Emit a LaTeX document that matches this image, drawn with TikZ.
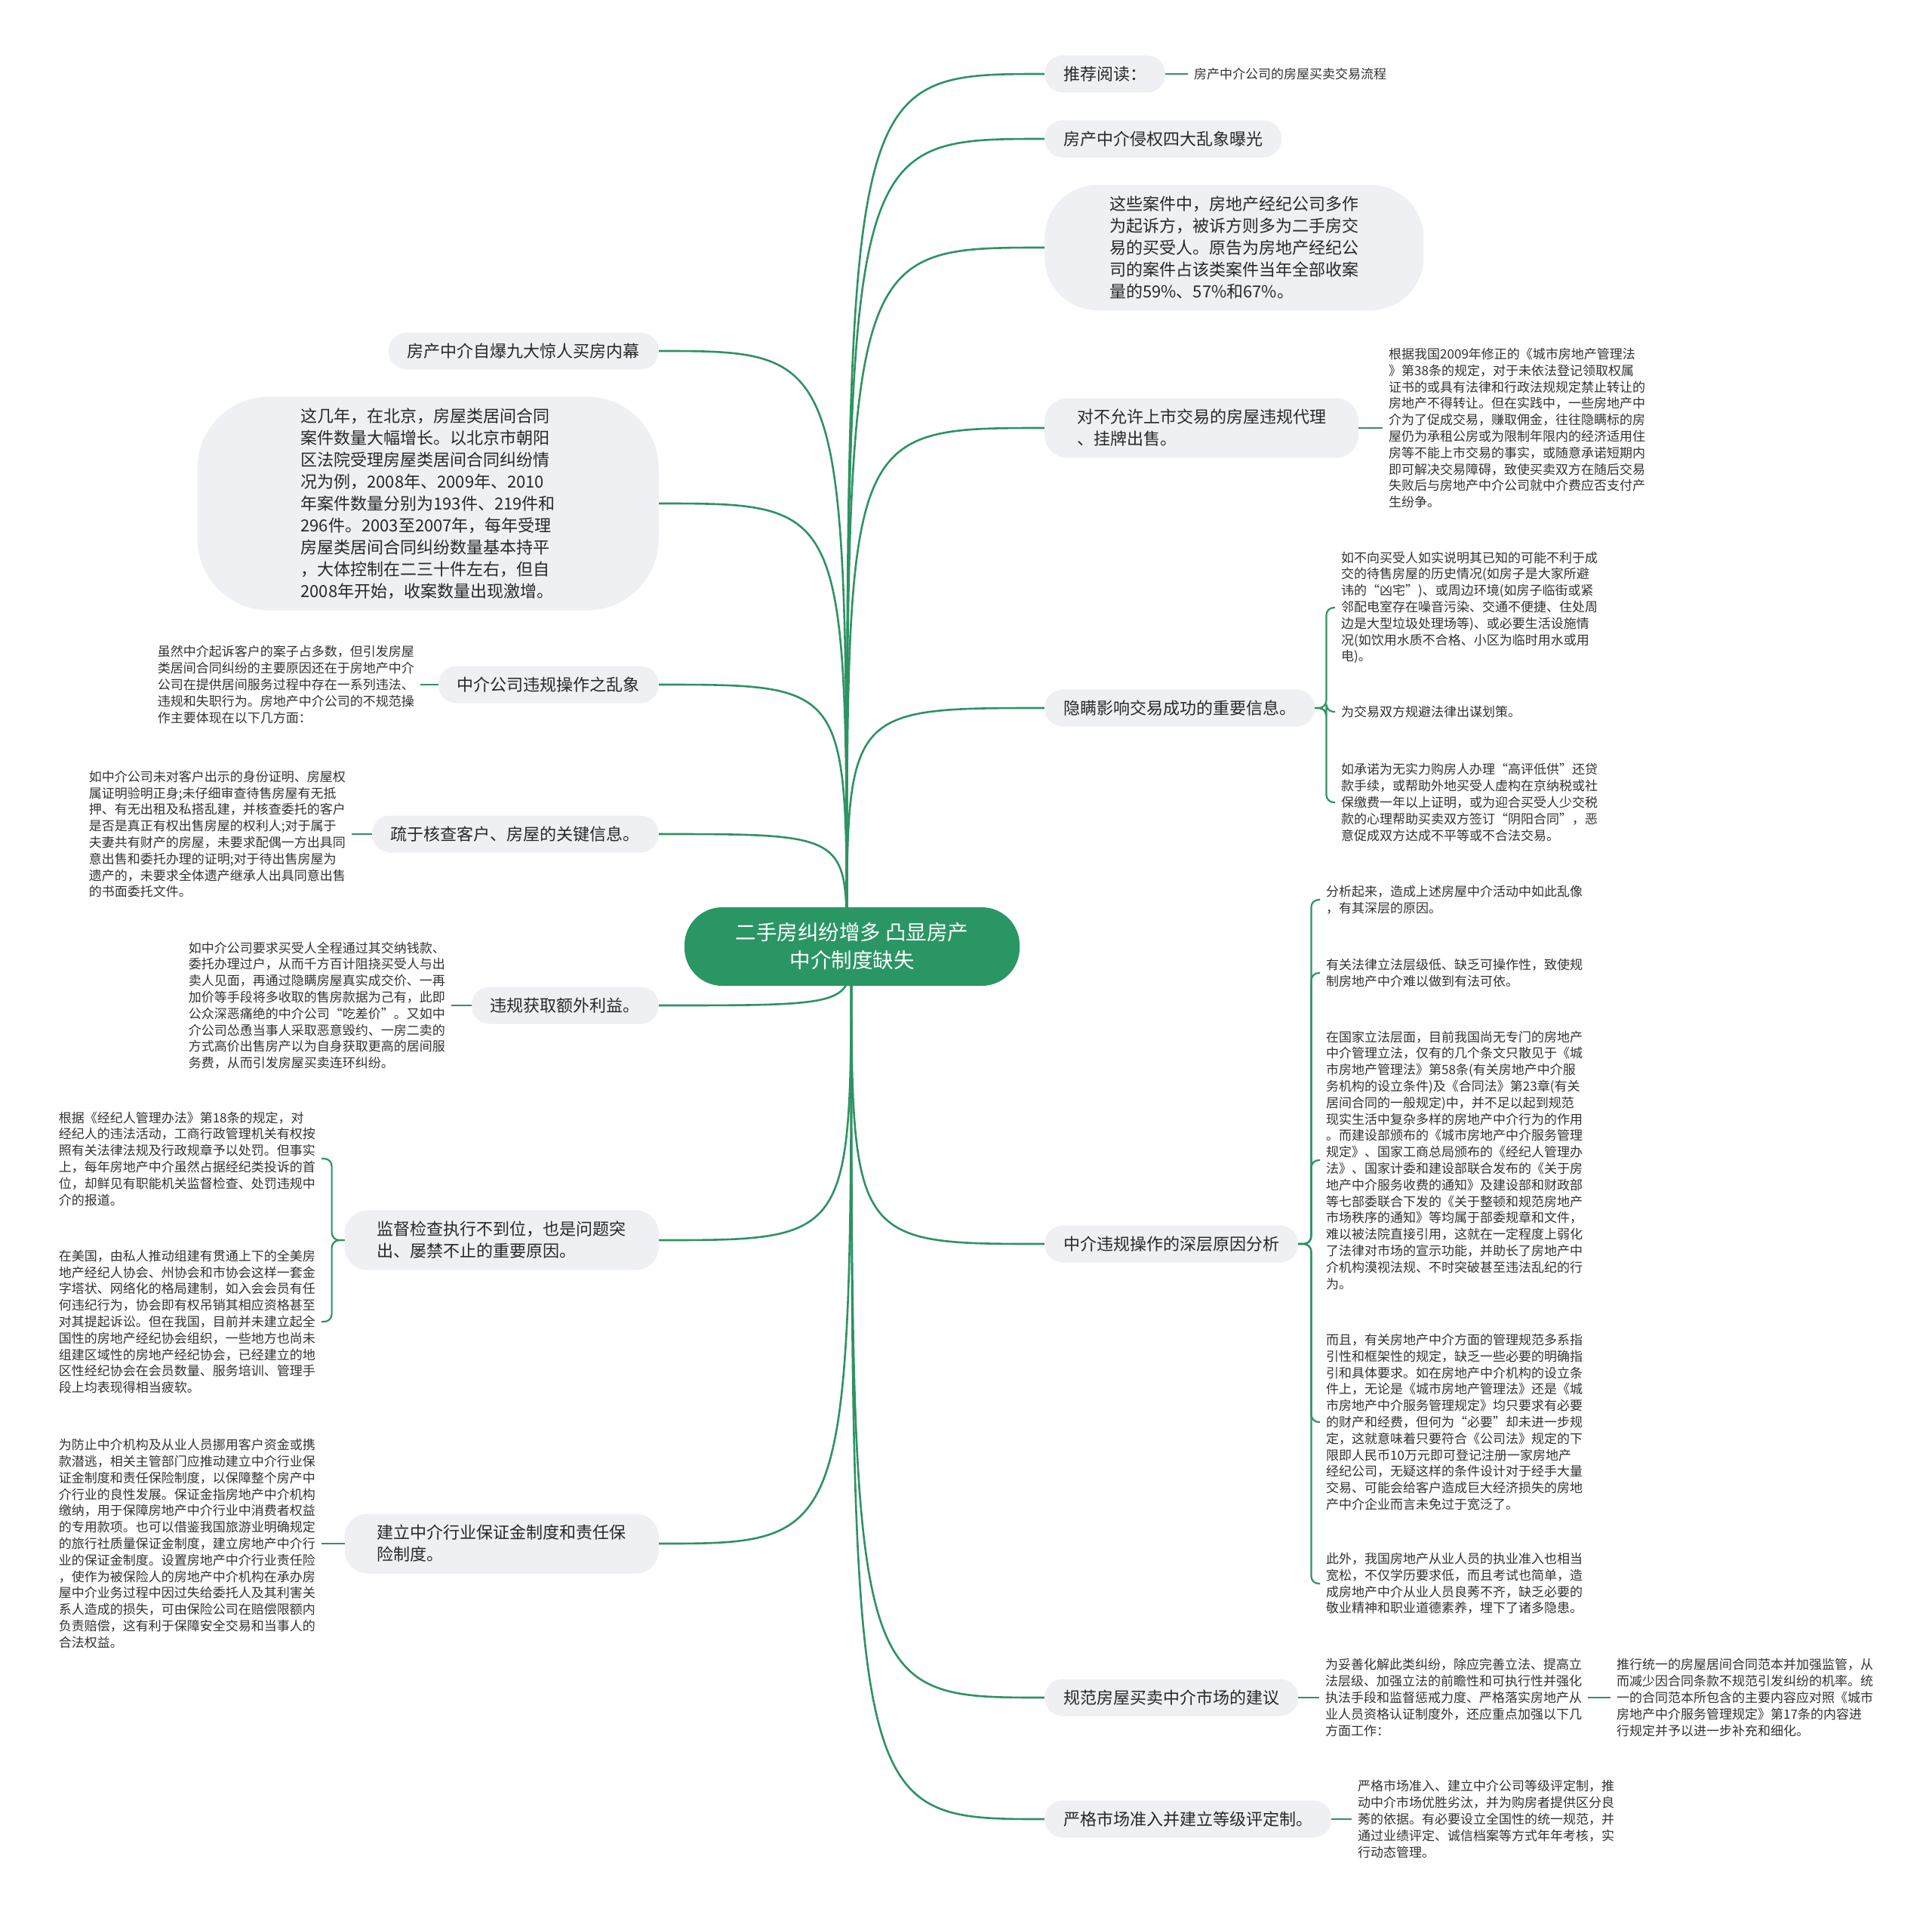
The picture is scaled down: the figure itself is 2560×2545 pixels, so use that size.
\documentclass[tikz,border=0pt]{standalone}
\usepackage{fontspec}
\setmainfont{Noto Sans CJK SC}
\usetikzlibrary{backgrounds}
\definecolor{gline}{RGB}{46,146,98}
\definecolor{groot}{RGB}{42,150,100}
\definecolor{boxfill}{RGB}{238,240,244}
\definecolor{txt}{RGB}{40,40,40}
\definecolor{leaftxt}{RGB}{50,50,50}
\begin{document}
\begin{tikzpicture}[x=1pt,y=-1pt,
  l1box/.style={fill=boxfill, rounded corners=24pt, inner xsep=25pt, inner ysep=4pt, minimum height=49pt, text=txt, font=\fontsize{22}{29}\selectfont, align=left},
  l1two/.style={l1box, inner xsep=43pt, minimum height=79pt, rounded corners=30pt},
  leaf/.style={inner xsep=8pt, inner ysep=0pt, text=leaftxt, font=\fontsize{17}{21.8}\selectfont, align=left},
  rootline/.style={draw=gline, line width=2.6pt},
  leafline/.style={draw=gline, line width=2.2pt}]
\useasboundingbox (0,0) rectangle (2560,2545);

% root
\node[fill=groot, text=white, rounded corners=50pt, minimum width=444pt, minimum height=104pt, align=center, font=\fontsize{27.5}{37}\selectfont] (root) at (1129,1254) {二手房纠纷增多 凸显房产\\中介制度缺失};
\coordinate (ru) at (1122,1254);
\coordinate (rd) at (1128,1254);

% right level-1
\node[l1box, anchor=west] (n1) at (1384,98) {推荐阅读：};
\node[l1box, anchor=west] (n2) at (1384,184) {房产中介侵权四大乱象曝光};
\node[l1box, anchor=west, inner xsep=86pt, minimum height=166pt, rounded corners=70pt] (n3) at (1384,328) {这些案件中，房地产经纪公司多作\\为起诉方，被诉方则多为二手房交\\易的买受人。原告为房地产经纪公\\司的案件占该类案件当年全部收案\\量的59\%、57\%和67\%。};
\node[l1two, anchor=west] (n4) at (1384,567) {对不允许上市交易的房屋违规代理\\、挂牌出售。};
\node[l1box, anchor=west] (n5) at (1384,938) {隐瞒影响交易成功的重要信息。};
\node[l1box, anchor=west] (n6) at (1384,1648) {中介违规操作的深层原因分析};
\node[l1box, anchor=west] (n7) at (1384,2249) {规范房屋买卖中介市场的建议};
\node[l1box, anchor=west] (n8) at (1384,2410) {严格市场准入并建立等级评定制。};

% left level-1
\node[l1box, anchor=east] (n9) at (873,465) {房产中介自爆九大惊人买房内幕};
\node[l1box, anchor=east, inner xsep=137pt, minimum height=283pt, rounded corners=95pt] (n10) at (873,667) {这几年，在北京，房屋类居间合同\\案件数量大幅增长。以北京市朝阳\\区法院受理房屋类居间合同纠纷情\\况为例，2008年、2009年、2010\\年案件数量分别为193件、219件和\\296件。2003至2007年，每年受理\\房屋类居间合同纠纷数量基本持平\\，大体控制在二三十件左右，但自\\2008年开始，收案数量出现激增。};
\node[l1box, anchor=east] (n11) at (873,907) {中介公司违规操作之乱象};
\node[l1box, anchor=east] (n12) at (873,1105) {疏于核查客户、房屋的关键信息。};
\node[l1box, anchor=east] (n13) at (873,1332) {违规获取额外利益。};
\node[l1two, anchor=east] (n14) at (873,1643) {监督检查执行不到位，也是问题突\\出、屡禁不止的重要原因。};
\node[l1two, anchor=east] (n15) at (873,2045) {建立中介行业保证金制度和责任保\\险制度。};

% right leaves
\node[leaf, anchor=west] (l1) at (1574,98) {房产中介公司的房屋买卖交易流程};
\node[leaf, anchor=west] (l4) at (1832,567) {根据我国2009年修正的《城市房地产管理法\\》第38条的规定，对于未依法登记领取权属\\证书的或具有法律和行政法规规定禁止转让的\\房地产不得转让。但在实践中，一些房地产中\\介为了促成交易，赚取佣金，往往隐瞒标的房\\屋仍为承租公房或为限制年限内的经济适用住\\房等不能上市交易的事实，或随意承诺短期内\\即可解决交易障碍，致使买卖双方在随后交易\\失败后与房地产中介公司就中介费应否支付产\\生纷争。};
\node[leaf, anchor=west] (l5a) at (1769,805) {如不向买受人如实说明其已知的可能不利于成\\交的待售房屋的历史情况(如房子是大家所避\\讳的“凶宅”)、或周边环境(如房子临街或紧\\邻配电室存在噪音污染、交通不便捷、住处周\\边是大型垃圾处理场等)、或必要生活设施情\\况(如饮用水质不合格、小区为临时用水或用\\电)。};
\node[leaf, anchor=west] (l5b) at (1769,943) {为交易双方规避法律出谋划策。};
\node[leaf, anchor=west] (l5c) at (1769,1063) {如承诺为无实力购房人办理“高评低供”还贷\\款手续，或帮助外地买受人虚构在京纳税或社\\保缴费一年以上证明，或为迎合买受人少交税\\款的心理帮助买卖双方签订“阴阳合同”，恶\\意促成双方达成不平等或不合法交易。};
\node[leaf, anchor=west] (l6a) at (1749,1192) {分析起来，造成上述房屋中介活动中如此乱像\\，有其深层的原因。};
\node[leaf, anchor=west] (l6b) at (1749,1289) {有关法律立法层级低、缺乏可操作性，致使规\\制房地产中介难以做到有法可依。};
\node[leaf, anchor=west] (l6c) at (1749,1537) {在国家立法层面，目前我国尚无专门的房地产\\中介管理立法，仅有的几个条文只散见于《城\\市房地产管理法》第58条(有关房地产中介服\\务机构的设立条件)及《合同法》第23章(有关\\居间合同的一般规定)中，并不足以起到规范\\现实生活中复杂多样的房地产中介行为的作用\\。而建设部颁布的《城市房地产中介服务管理\\规定》、国家工商总局颁布的《经纪人管理办\\法》、国家计委和建设部联合发布的《关于房\\地产中介服务收费的通知》及建设部和财政部\\等七部委联合下发的《关于整顿和规范房地产\\市场秩序的通知》等均属于部委规章和文件，\\难以被法院直接引用，这就在一定程度上弱化\\了法律对市场的宣示功能，并助长了房地产中\\介机构漠视法规、不时突破甚至违法乱纪的行\\为。};
\node[leaf, anchor=west] (l6d) at (1749,1884) {而且，有关房地产中介方面的管理规范多系指\\引性和框架性的规定，缺乏一些必要的明确指\\引和具体要求。如在房地产中介机构的设立条\\件上，无论是《城市房地产管理法》还是《城\\市房地产中介服务管理规定》均只要求有必要\\的财产和经费，但何为“必要”却未进一步规\\定，这就意味着只要符合《公司法》规定的下\\限即人民币10万元即可登记注册一家房地产\\经纪公司，无疑这样的条件设计对于经手大量\\交易、可能会给客户造成巨大经济损失的房地\\产中介企业而言未免过于宽泛了。};
\node[leaf, anchor=west] (l6e) at (1749,2098) {此外，我国房地产从业人员的执业准入也相当\\宽松，不仅学历要求低，而且考试也简单，造\\成房地产中介从业人员良莠不齐，缺乏必要的\\敬业精神和职业道德素养，埋下了诸多隐患。};
\node[leaf, anchor=west] (l7a) at (1748,2249) {为妥善化解此类纠纷，除应完善立法、提高立\\法层级、加强立法的前瞻性和可执行性并强化\\执法手段和监督惩戒力度、严格落实房地产从\\业人员资格认证制度外，还应重点加强以下几\\方面工作：};
\node[leaf, anchor=west] (l7b) at (2134,2249) {推行统一的房屋居间合同范本并加强监管，从\\而减少因合同条款不规范引发纠纷的机率。统\\一的合同范本所包含的主要内容应对照《城市\\房地产中介服务管理规定》第17条的内容进\\行规定并予以进一步补充和细化。};
\node[leaf, anchor=west] (l8) at (1791,2410) {严格市场准入、建立中介公司等级评定制，推\\动中介市场优胜劣汰，并为购房者提供区分良\\莠的依据。有必要设立全国性的统一规范，并\\通过业绩评定、诚信档案等方式年年考核，实\\行动态管理。};

% left leaves
\node[leaf, anchor=east] (l11) at (557,907) {虽然中介起诉客户的案子占多数，但引发房屋\\类居间合同纠纷的主要原因还在于房地产中介\\公司在提供居间服务过程中存在一系列违法、\\违规和失职行为。房地产中介公司的不规范操\\作主要体现在以下几方面：};
\node[leaf, anchor=east] (l12) at (466,1105) {如中介公司未对客户出示的身份证明、房屋权\\属证明验明正身;未仔细审查待售房屋有无抵\\押、有无出租及私搭乱建，并核查委托的客户\\是否是真正有权出售房屋的权利人;对于属于\\夫妻共有财产的房屋，未要求配偶一方出具同\\意出售和委托办理的证明;对于待出售房屋为\\遗产的，未要求全体遗产继承人出具同意出售\\的书面委托文件。};
\node[leaf, anchor=east] (l13) at (598,1332) {如中介公司要求买受人全程通过其交纳钱款、\\委托办理过户，从而千方百计阻挠买受人与出\\卖人见面，再通过隐瞒房屋真实成交价、一再\\加价等手段将多收取的售房款据为己有，此即\\公众深恶痛绝的中介公司“吃差价”。又如中\\介公司怂恿当事人采取恶意毁约、一房二卖的\\方式高价出售房产以为自身获取更高的居间服\\务费，从而引发房屋买卖连环纠纷。};
\node[leaf, anchor=east] (l14a) at (426,1535) {根据《经纪人管理办法》第18条的规定，对\\经纪人的违法活动，工商行政管理机关有权按\\照有关法律法规及行政规章予以处罚。但事实\\上，每年房地产中介虽然占据经纪类投诉的首\\位，却鲜见有职能机关监督检查、处罚违规中\\介的报道。};
\node[leaf, anchor=east] (l14b) at (426,1751) {在美国，由私人推动组建有贯通上下的全美房\\地产经纪人协会、州协会和市协会这样一套金\\字塔状、网络化的格局建制，如入会会员有任\\何违纪行为，协会即有权吊销其相应资格甚至\\对其提起诉讼。但在我国，目前并未建立起全\\国性的房地产经纪协会组织，一些地方也尚未\\组建区域性的房地产经纪协会，已经建立的地\\区性经纪协会在会员数量、服务培训、管理手\\段上均表现得相当疲软。};
\node[leaf, anchor=east] (l15) at (426,2045) {为防止中介机构及从业人员挪用客户资金或携\\款潜逃，相关主管部门应推动建立中介行业保\\证金制度和责任保险制度，以保障整个房产中\\介行业的良性发展。保证金指房地产中介机构\\缴纳，用于保障房地产中介行业中消费者权益\\的专用款项。也可以借鉴我国旅游业明确规定\\的旅行社质量保证金制度，建立房地产中介行\\业的保证金制度。设置房地产中介行业责任险\\，使作为被保险人的房地产中介机构在承办房\\屋中介业务过程中因过失给委托人及其利害关\\系人造成的损失，可由保险公司在赔偿限额内\\负责赔偿，这有利于保障安全交易和当事人的\\合法权益。};

% connectors (behind the nodes)
\begin{scope}[on background layer]
\fill[white] (0,0) rectangle (2560,2545);
\foreach \n in {n1,n2,n3,n4,n5}
  \draw[rootline] (ru) .. controls (ru |- \n.west) .. (\n.west);
\foreach \n in {n6,n7,n8}
  \draw[rootline] (rd) .. controls (rd |- \n.west) .. (\n.west);
\foreach \n in {n9,n10,n11,n12}
  \draw[rootline] (ru) .. controls (ru |- \n.east) .. (\n.east);
\foreach \n in {n13,n14,n15}
  \draw[rootline] (rd) .. controls (rd |- \n.east) .. (\n.east);
\end{scope}

\draw[leafline] (n1.east) -- (l1.west);
\draw[leafline] (n4.east) -- (l4.west);
\foreach \c in {l5a,l5b,l5c}
  \draw[leafline, rounded corners=10pt] (n5.east) -- ++(15,0) |- (\c.west);
\foreach \c in {l6a,l6b,l6c,l6d,l6e}
  \draw[leafline, rounded corners=10pt] (n6.east) -- ++(17,0) |- (\c.west);
\draw[leafline] (n7.east) -- (l7a.west);
\draw[leafline] (l7a.east) -- (l7b.west);
\draw[leafline] (n8.east) -- (l8.west);
\draw[leafline] (n11.west) -- (l11.east);
\draw[leafline] (n12.west) -- (l12.east);
\draw[leafline] (n13.west) -- (l13.east);
\foreach \c in {l14a,l14b}
  \draw[leafline, rounded corners=10pt] (n14.west) -- ++(-17,0) |- (\c.east);
\draw[leafline] (n15.west) -- (l15.east);
\end{tikzpicture}
\end{document}
